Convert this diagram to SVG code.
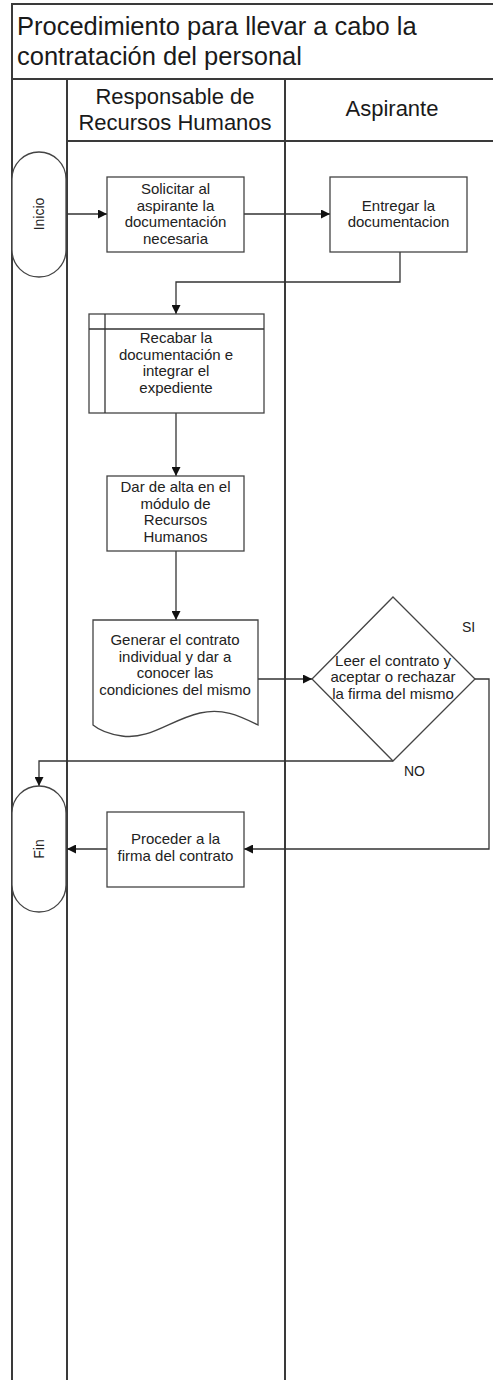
<svg xmlns="http://www.w3.org/2000/svg" width="493" height="1380" viewBox="0 0 493 1380">
  <style>
    .lane { fill: none; stroke: #3a3a3a; stroke-width: 2; }
    .shape { fill: #ffffff; stroke: #444444; stroke-width: 1.3; }
    .conn { fill: none; stroke: #333333; stroke-width: 1.3; }
    .title { font-family: "Liberation Sans", Arial, sans-serif; font-size: 25.5px; fill: #1a1a1a; }
    .head { font-family: "Liberation Sans", Arial, sans-serif; font-size: 22px; fill: #1a1a1a; text-anchor: middle; }
    .lbl { font-family: "Liberation Sans", Arial, sans-serif; font-size: 15px; fill: #222222; text-anchor: middle; }
    .term { font-family: "Liberation Sans", Arial, sans-serif; font-size: 14px; fill: #222222; text-anchor: middle; }
    .tag { font-family: "Liberation Sans", Arial, sans-serif; font-size: 14px; fill: #222222; }
  </style>
  <defs>
    <marker id="arrow" viewBox="0 0 10 10" refX="10" refY="5" markerWidth="9" markerHeight="9" markerUnits="userSpaceOnUse" orient="auto">
      <path d="M0,0 L10,5 L0,10 z" fill="#111111"/>
    </marker>
  </defs>

  <rect width="493" height="1380" fill="#ffffff"/>

  <!-- pool frame and lanes -->
  <g id="pool">
    <path class="lane" d="M12,1380 V4 H500"/>
    <line class="lane" x1="12" y1="79" x2="500" y2="79"/>
    <line class="lane" x1="67" y1="79" x2="67" y2="1380"/>
    <line class="lane" x1="285" y1="79" x2="285" y2="1380"/>
    <line class="lane" x1="67" y1="141" x2="500" y2="141"/>
    <text class="title" x="17" y="35">Procedimiento para llevar a cabo la</text>
    <text class="title" x="17" y="65">contratación del personal</text>
    <text class="head" x="175" y="104">Responsable de</text>
    <text class="head" x="175" y="130">Recursos Humanos</text>
    <text class="head" x="392" y="116">Aspirante</text>
  </g>

  <!-- connectors -->
  <g id="connectors">
    <line class="conn" x1="67" y1="214" x2="107" y2="214" marker-end="url(#arrow)"/>
    <line class="conn" x1="244" y1="214" x2="330" y2="214" marker-end="url(#arrow)"/>
    <polyline class="conn" points="400,252 400,282 176,282 176,314" marker-end="url(#arrow)"/>
    <line class="conn" x1="176" y1="413" x2="176" y2="476" marker-end="url(#arrow)"/>
    <line class="conn" x1="176" y1="551" x2="176" y2="620" marker-end="url(#arrow)"/>
    <line class="conn" x1="258" y1="679" x2="312" y2="679" marker-end="url(#arrow)"/>
    <polyline class="conn" points="475,679 489,679 489,849 244,849" marker-end="url(#arrow)"/>
    <polyline class="conn" points="393,761 39,761 39,786" marker-end="url(#arrow)"/>
    <line class="conn" x1="107" y1="849" x2="67" y2="849" marker-end="url(#arrow)"/>
    <text class="tag" x="462" y="632">SI</text>
    <text class="tag" x="404" y="776">NO</text>
  </g>

  <g id="inicio">
    <rect class="shape" x="12" y="152" width="54" height="125" rx="27" ry="27"/>
    <text class="term" transform="translate(43.5,214) rotate(-90)">Inicio</text>
  </g>

  <g id="solicitar">
    <rect class="shape" x="107" y="177" width="137" height="75"/>
    <text class="lbl" x="175.5" y="194">Solicitar al</text>
    <text class="lbl" x="175.5" y="210.5">aspirante la</text>
    <text class="lbl" x="175.5" y="227">documentación</text>
    <text class="lbl" x="175.5" y="243.5">necesaria</text>
  </g>

  <g id="entregar">
    <rect class="shape" x="330" y="177" width="137" height="75"/>
    <text class="lbl" x="398.5" y="210.5">Entregar la</text>
    <text class="lbl" x="398.5" y="227">documentacion</text>
  </g>

  <g id="recabar">
    <rect class="shape" x="89" y="314" width="175" height="99"/>
    <line class="conn" x1="89" y1="329" x2="264" y2="329"/>
    <line class="conn" x1="105" y1="314" x2="105" y2="413"/>
    <text class="lbl" x="176" y="343">Recabar la</text>
    <text class="lbl" x="176" y="359.5">documentación e</text>
    <text class="lbl" x="176" y="376">integrar el</text>
    <text class="lbl" x="176" y="392.5">expediente</text>
  </g>

  <g id="alta">
    <rect class="shape" x="107" y="476" width="137" height="75"/>
    <text class="lbl" x="175.5" y="492">Dar de alta en el</text>
    <text class="lbl" x="175.5" y="508.5">módulo de</text>
    <text class="lbl" x="175.5" y="525">Recursos</text>
    <text class="lbl" x="175.5" y="541.5">Humanos</text>
  </g>

  <g id="generar">
    <path class="shape" d="M93,620 H258 V725 C238,715 222,708 200,713 C170,720 150,740 122,736 C108,734 99,730 93,725 Z"/>
    <text class="lbl" x="175" y="645">Generar el contrato</text>
    <text class="lbl" x="175" y="661.5">individual y dar a</text>
    <text class="lbl" x="175" y="678">conocer las</text>
    <text class="lbl" x="175" y="694.5">condiciones del mismo</text>
  </g>

  <g id="decision">
    <polygon class="shape" points="393,597 475,679 393,761 312,679"/>
    <text class="lbl" x="393" y="665.5">Leer el contrato y</text>
    <text class="lbl" x="393" y="682">aceptar o rechazar</text>
    <text class="lbl" x="393" y="698.5">la firma del mismo</text>
  </g>

  <g id="proceder">
    <rect class="shape" x="107" y="812" width="137" height="75"/>
    <text class="lbl" x="175.5" y="844">Proceder a la</text>
    <text class="lbl" x="175.5" y="860.5">firma del contrato</text>
  </g>

  <g id="fin">
    <rect class="shape" x="12" y="786" width="54" height="126" rx="27" ry="27"/>
    <text class="term" transform="translate(43.5,849) rotate(-90)">Fin</text>
  </g>
</svg>
